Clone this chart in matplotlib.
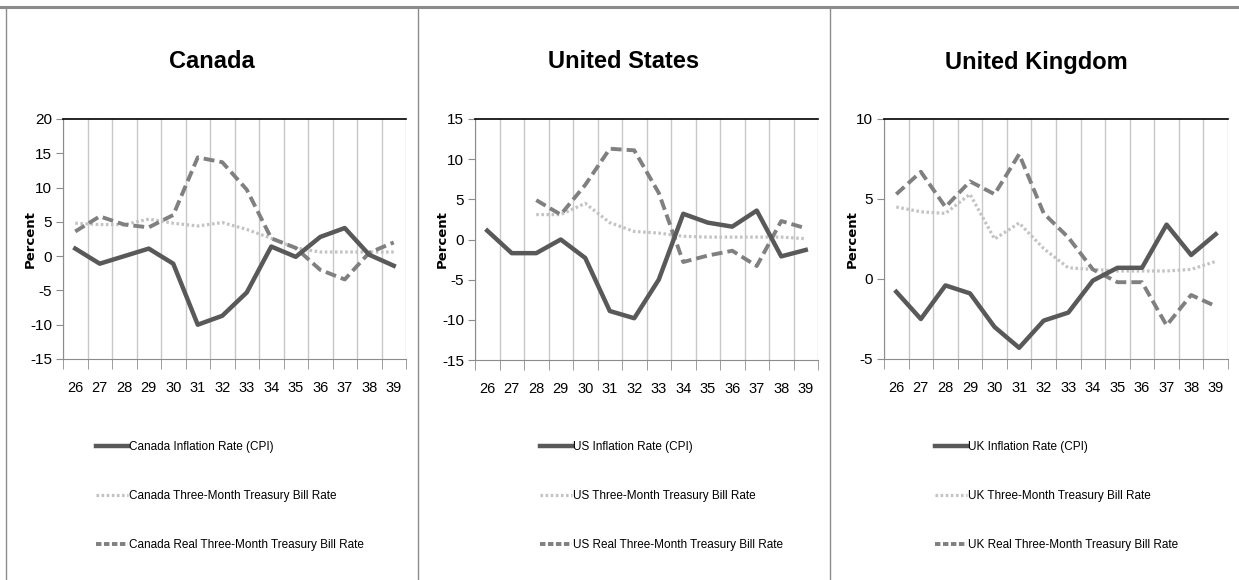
import numpy as np
import matplotlib
matplotlib.use('Agg')
import matplotlib.pyplot as plt
from matplotlib.lines import Line2D

plt.rcParams['font.family'] = ['Liberation Sans', 'DejaVu Sans']

years = ['26', '27', '28', '29', '30', '31', '32', '33', '34', '35', '36', '37', '38', '39']

ca_infl = [1.1, -1.1, 0.0, 1.1, -1.1, -10.0, -8.7, -5.3, 1.4, -0.1, 2.8, 4.1, 0.2, -1.4]
ca_tbill = [4.8, 4.6, 4.6, 5.4, 4.8, 4.4, 4.9, 3.9, 2.6, 1.2, 0.6, 0.6, 0.6, 0.6]
ca_real = [3.6, 5.8, 4.6, 4.2, 6.0, 14.4, 13.7, 9.7, 2.6, 1.2, -2.0, -3.4, 0.5, 2.0]

us_infl = [1.1, -1.7, -1.7, 0.0, -2.3, -8.9, -9.8, -5.0, 3.2, 2.1, 1.6, 3.6, -2.1, -1.3]
us_tbill = [None, None, 3.1, 3.1, 4.5, 2.1, 1.0, 0.8, 0.4, 0.3, 0.3, 0.3, 0.3, 0.1]
us_real = [None, None, 4.9, 3.1, 6.8, 11.3, 11.1, 5.8, -2.8, -2.0, -1.4, -3.3, 2.3, 1.4]

uk_infl = [-0.8, -2.5, -0.4, -0.9, -3.0, -4.3, -2.6, -2.1, -0.1, 0.7, 0.7, 3.4, 1.5, 2.8]
uk_tbill = [4.5, 4.2, 4.1, 5.3, 2.5, 3.5, 1.9, 0.7, 0.6, 0.5, 0.5, 0.5, 0.6, 1.1]
uk_real = [5.3, 6.7, 4.5, 6.1, 5.3, 7.8, 4.1, 2.6, 0.6, -0.2, -0.2, -2.9, -1.0, -1.7]

panels = [
    ('Canada', 'Canada', ca_infl, ca_tbill, ca_real, (-15, 20), 5),
    ('United States', 'US', us_infl, us_tbill, us_real, (-15, 15), 5),
    ('United Kingdom', 'UK', uk_infl, uk_tbill, uk_real, (-5, 10), 5),
]

# pixel boxes (left, top, right, bottom) for each plot area
boxes = [(63, 119, 406, 359), (475, 119, 818, 360), (884, 119, 1228, 359)]
title_x = [212, 624, 1036]
legend_x = [96, 540, 935]
ylabel_x = [30, 442, 852]

W, H = 1239, 580
fig = plt.figure(figsize=(W / 100, H / 100), dpi=100)

# frame lines
fig.add_artist(Line2D([0, 1], [1 - 7 / H, 1 - 7 / H], color='#8c8c8c', lw=2.2))
fig.add_artist(Line2D([6 / W, 6 / W], [0, 1 - 7 / H], color='#8c8c8c', lw=1))
for xd in [418, 830]:
    fig.add_artist(Line2D([xd / W, xd / W], [0, 1 - 7 / H], color='#8c8c8c', lw=1))

c_infl = '#595959'
c_tbill = '#c3c3c3'
c_real = '#808080'
dot = (0, (0.8, 0.8))
dash = (0, (2.8, 1.3))

x = np.arange(len(years))

def clean(v):
    return np.array([np.nan if a is None else a for a in v], dtype=float)

for i, (title, short, infl, tbill, real, ylim, step) in enumerate(panels):
    l, t, r, b = boxes[i]
    ax = fig.add_axes([l / W, 1 - b / H, (r - l) / W, (b - t) / H])
    ax.plot(x, clean(tbill), color=c_tbill, lw=2.3, linestyle=dot, dash_capstyle='butt')
    ax.plot(x, clean(real), color=c_real, lw=2.8, linestyle=dash, dash_capstyle='butt')
    ax.plot(x, clean(infl), color=c_infl, lw=3.2)

    ax.set_xlim(-0.5, len(years) - 0.5)
    ax.set_ylim(*ylim)
    ax.set_yticks(np.arange(ylim[0], ylim[1] + 0.1, step))
    ax.set_yticklabels([f'{v:d}' for v in np.arange(ylim[0], ylim[1] + 1, step)])
    ax.set_xticks(x)
    ax.set_xticklabels(years)
    ax.set_xticks(np.arange(-0.5, len(years)), minor=True)
    ax.tick_params(axis='x', which='major', length=0, pad=16, labelsize=10.5)
    ax.tick_params(axis='x', which='minor', length=7, color='#8c8c8c', direction='out')
    ax.tick_params(axis='y', length=5, color='#8c8c8c', labelsize=11, pad=3)
    ax.grid(True, axis='x', which='minor', color='#c8c8c8', lw=1)
    ax.set_axisbelow(True)
    ax.spines['top'].set_color('black')
    ax.spines['top'].set_linewidth(1.2)
    ax.spines['right'].set_visible(False)
    ax.spines['left'].set_color('#8c8c8c')
    ax.spines['bottom'].set_color('#8c8c8c')

    fig.text(ylabel_x[i] / W, 1 - ((t + b) / 2) / H, 'Percent', rotation=90, ha='center', va='center',
             fontsize=9.5, fontweight='heavy', family='DejaVu Sans')
    fig.text(title_x[i] / W, 1 - 62 / H, title, ha='center', va='center', fontsize=17, fontweight='bold')

    handles = [
        Line2D([], [], color=c_infl, lw=3.2),
        Line2D([], [], color=c_tbill, lw=2.3, linestyle=dot),
        Line2D([], [], color=c_real, lw=2.8, linestyle=(0, (1.4, 0.65))),
    ]
    labels = [f'{short} Inflation Rate (CPI)', f'{short} Three-Month Treasury Bill Rate',
              f'{short} Real Three-Month Treasury Bill Rate']
    fig.legend(handles, labels, loc='upper left', bbox_to_anchor=(legend_x[i] / W, 1 - 441 / H),
               frameon=False, fontsize=8.5, handlelength=2.7, handletextpad=0.1,
               labelspacing=3.15, borderaxespad=0, borderpad=0)

fig.savefig('out.png', dpi=100)
